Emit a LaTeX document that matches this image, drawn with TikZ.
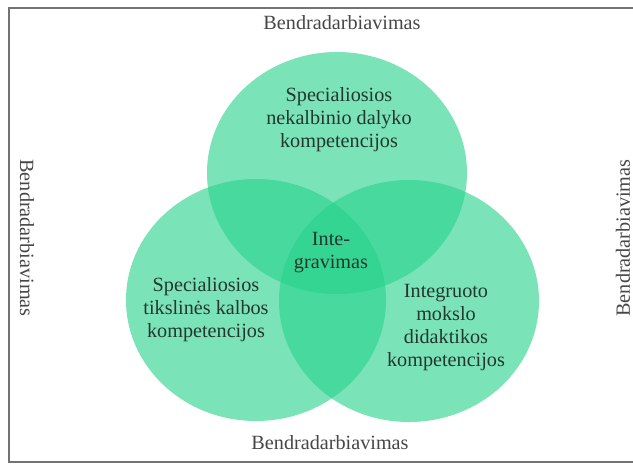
\documentclass[tikz,border=0pt]{standalone}
\usepackage{fontspec}
\setmainfont{Liberation Serif}
\usepackage{xcolor}
\usepackage{tikz}
\usetikzlibrary{positioning, shapes.geometric}

\definecolor{areagreen}{RGB}{40,210,140}
\definecolor{areatext}{RGB}{35,55,45}
\definecolor{sidetext}{RGB}{70,70,70}
\definecolor{framegray}{RGB}{115,115,115}

\begin{document}
\begin{tikzpicture}[x = 0.5pt, y = -0.5pt]
            \tikzstyle{area} = [ellipse, minimum width = 130pt, minimum height = 121pt, inner sep = 0pt, fill = areagreen, fill opacity = 0.62]
            \tikzstyle{areaname} = [align = center, text = areatext, font = \fontsize{10.1}{11.5}\selectfont, inner sep = 0pt]
            \tikzstyle{side} = [text = sidetext, font = \fontsize{10.1}{11.5}\selectfont, inner sep = 0pt]
            \useasboundingbox (0, 0) rectangle (633, 463);
            \draw [framegray, line width = 1pt] (9, 8) rectangle (645, 462);

            \node [area] (K1) at (337, 173) {};
            \node [area] (K2) at (256, 300) {};
            \node [area] (K3) at (409, 301) {};

            \node [areaname] (A1) at (339, 120) {Specialiosios\\nekalbinio dalyko\\kompetencijos};
            \node [areaname] (A2) at (206, 310) {Specialiosios\\tikslinės kalbos\\kompetencijos};
            \node [areaname] (A3) at (446, 328) {Integruoto\\mokslo\\didaktikos\\kompetencijos};
            \node [areaname] (A0) at (331, 253) {Inte-\\gravimas};

            \node [side] (B1) at (342, 23) {Bendradarbiavimas};
            \node [side] (B2) at (330, 443) {Bendradarbiavimas};
            \node [side, rotate = -90] (B3) at (27, 238) {Bendradarbiavimas};
            \node [side, rotate = 90] (B4) at (623, 238) {Bendradarbiavimas};
        \end{tikzpicture}
\end{document}
